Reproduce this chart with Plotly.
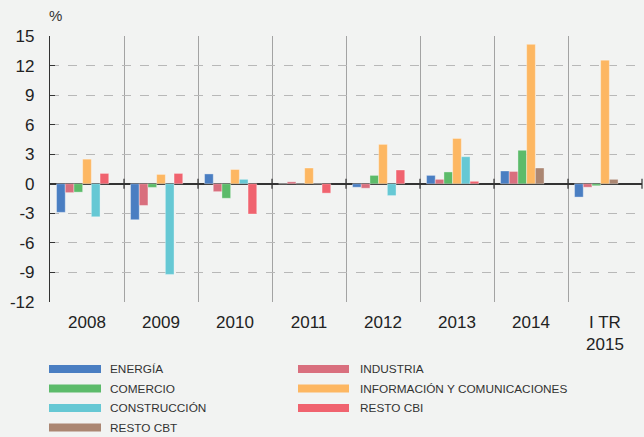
import plotly.graph_objects as go

# ---------------- data ----------------
years = ["2008", "2009", "2010", "2011", "2012", "2013", "2014", "I TR<br>2015"]
energia      = [-2.9, -3.65, 1.0, 0.0, -0.35, 0.85, 1.3, -1.35]
industria    = [-0.9, -2.2, -0.8, 0.2, -0.45, 0.45, 1.25, -0.35]
comercio     = [-0.85, -0.37, -1.47, 0.0, 0.85, 1.2, 3.4, -0.2]
informacion  = [2.5, 0.95, 1.45, 1.6, 4.0, 4.6, 14.15, 12.55]
construccion = [-3.35, -9.2, 0.45, 0.0, -1.2, 2.75, None, None]
resto_cbi    = [1.05, 1.05, -3.07, -0.95, 1.4, 0.25, None, None]
resto_cbt    = [None, None, None, None, None, None, 1.6, 0.45]

series_names = ["ENERGÍA", "INDUSTRIA", "COMERCIO", "INFORMACIÓN Y COMUNICACIONES",
                "CONSTRUCCIÓN", "RESTO CBI", "RESTO CBT"]
series_values = [energia, industria, comercio, informacion, construccion, resto_cbi, resto_cbt]
y_tickvals = [-12, -9, -6, -3, 0, 3, 6, 9, 12, 15]

# ---------------- style ----------------
colors = ["#4a7ec2", "#d96f7e", "#5cbb6a", "#fdb762", "#66c8d4", "#f0636f", "#ab8672"]
slots = [0, 1, 2, 3, 4, 5, 4]
n_slots = 7
bargap = 0.177
bw = (1 - bargap) / n_slots
BG = "#f2f3f2"
FONT = "Liberation Sans, Arial, sans-serif"

W, H = 644, 437
L, R, T, B = 50, 2, 36, 135
pw, ph = W - L - R, H - T - B


def px_x(p):
    return (p - L) / pw


def px_y(p):
    return (H - B - p) / ph


fig = go.Figure()
for name, vals, col, s in zip(series_names, series_values, colors, slots):
    fig.add_trace(go.Bar(
        x=years, y=vals, name=name,
        marker=dict(color=col, line=dict(color="rgba(255,255,255,0.35)", width=1)),
        width=bw, offset=-0.5 + bargap / 2 + s * bw,
        showlegend=False,
    ))

# tick marks on the zero line at category boundaries
shapes = []
for i in range(len(years) - 1):
    shapes.append(dict(type="line", xref="x", yref="y", x0=i + 0.5, x1=i + 0.5,
                       y0=-0.5, y1=0.5, line=dict(color="#333333", width=1.2)))
shapes.append(dict(type="line", xref="paper", yref="y", x0=1, x1=1,
                   y0=-0.5, y1=0.5, line=dict(color="#333333", width=1.2)))

# manual legend
annotations = []
legend_cols = [(49, 101, 108), (298, 349, 358)]
row_y = [369, 388.5, 408, 427.5]
for k, (name, col) in enumerate(zip(series_names, colors)):
    c = k % 2
    r = k // 2
    x0, x1, tx = legend_cols[c]
    yc = row_y[r]
    shapes.append(dict(type="rect", xref="paper", yref="paper",
                       x0=px_x(x0), x1=px_x(x1), y0=px_y(yc + 4), y1=px_y(yc - 4),
                       fillcolor=col, line=dict(width=0)))
    annotations.append(dict(xref="paper", yref="paper", x=px_x(tx), y=px_y(yc),
                            xanchor="left", yanchor="middle", showarrow=False,
                            text=name, font=dict(family=FONT, size=11.8, color="#333333")))

annotations.append(dict(xref="paper", yref="paper", x=px_x(47), y=px_y(16),
                        xanchor="left", yanchor="middle", showarrow=False,
                        text="%", font=dict(family=FONT, size=15, color="#333333")))

fig.update_layout(
    width=W, height=H,
    margin=dict(l=L, r=R, t=T, b=B, pad=0),
    paper_bgcolor=BG, plot_bgcolor=BG,
    barmode="overlay",
    showlegend=False,
    font=dict(family=FONT, size=16, color="#222222"),
    shapes=shapes, annotations=annotations,
    xaxis=dict(
        type="category", tickson="boundaries", showgrid=True,
        gridcolor="#a3a3a3", gridwidth=1, ticks="", showline=False,
        zeroline=False, range=[-0.5, len(years) - 0.5],
        tickfont=dict(size=17, color="#222222"), ticklabelstandoff=8,
    ),
    yaxis=dict(
        range=[-12, 15], tickvals=y_tickvals, ticktext=[str(v) for v in y_tickvals],
        showgrid=True, gridcolor="#b8b8b8", griddash="dash", gridwidth=1,
        zeroline=True, zerolinecolor="#333333", zerolinewidth=1.5,
        showline=True, linecolor="#333333", linewidth=1.2,
        ticks="inside", ticklen=5, tickcolor="#333333",
        tickfont=dict(size=17, color="#222222"), ticklabelstandoff=11,
    ),
)

fig.write_html(
    "out.html",
    config={"displayModeBar": False},
    post_script="document.body.style.margin='0';document.body.style.background='%s';" % BG,
)
